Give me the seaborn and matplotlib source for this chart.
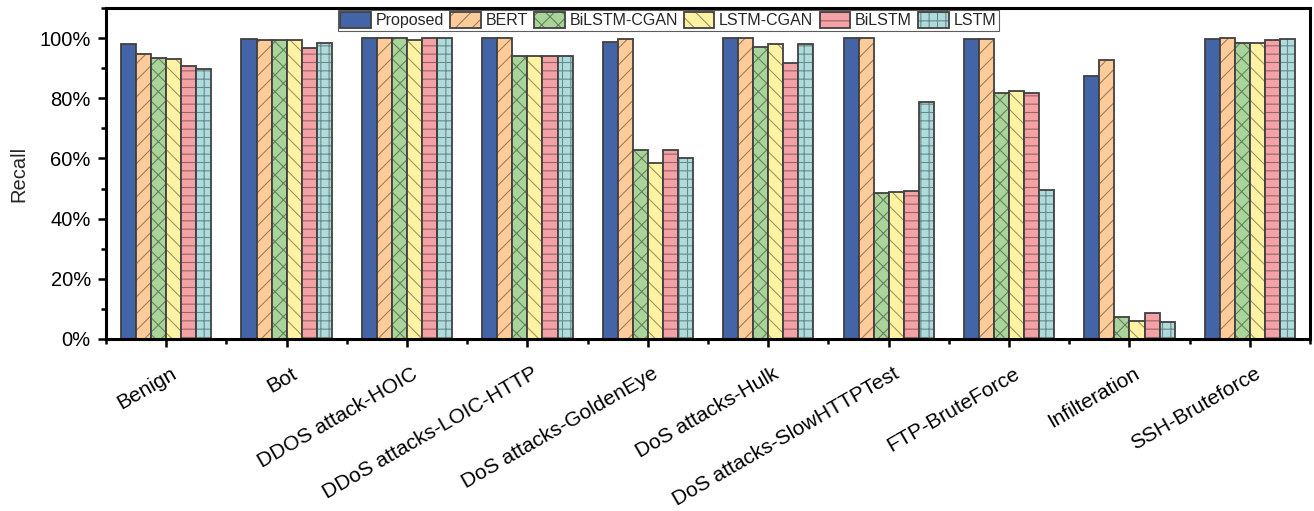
import matplotlib
matplotlib.use("Agg")
import matplotlib.pyplot as plt
import matplotlib.ticker as mticker
import matplotlib.colors as mcolors
import matplotlib.transforms as mtransforms
import numpy as np
import pandas as pd
import seaborn as sns

categories = ["Benign", "Bot", "DDOS attack-HOIC", "DDoS attacks-LOIC-HTTP",
              "DoS attacks-GoldenEye", "DoS attacks-Hulk", "DoS attacks-SlowHTTPTest",
              "FTP-BruteForce", "Infilteration", "SSH-Bruteforce"]
models = ["Proposed", "BERT", "BiLSTM-CGAN", "LSTM-CGAN", "BiLSTM", "LSTM"]

proposed    = [98.0, 99.7, 99.9, 99.9, 98.7, 99.9, 100.0, 99.7, 87.5, 99.8]
bert        = [94.7, 99.4, 100.0, 99.9, 99.8, 99.9, 100.0, 99.6, 92.6, 99.9]
bilstm_cgan = [93.5, 99.3, 99.9, 94.0, 62.8, 97.1, 48.5, 81.6, 7.4, 98.2]
lstm_cgan   = [93.1, 99.2, 99.4, 94.1, 58.6, 97.9, 48.8, 82.5, 6.1, 98.2]
bilstm      = [90.8, 96.8, 100.0, 94.0, 62.8, 91.6, 49.2, 81.8, 8.8, 99.5]
lstm        = [89.8, 98.4, 100.0, 94.1, 60.3, 98.0, 78.7, 49.4, 5.7, 99.8]

series = [proposed, bert, bilstm_cgan, lstm_cgan, bilstm, lstm]
df = pd.DataFrame({
    "category": np.tile(categories, len(models)),
    "model": np.repeat(models, len(categories)),
    "recall": np.concatenate(series),
})

fills = ["#4464A8", "#FFCC99", "#A9D49A", "#FFF3A3", "#F4A2A6", "#AEDCDC"]
hatches = [None, "//", "xx", "\\\\", "--", "++"]

sns.set_theme(style="ticks")
plt.rcParams["font.family"] = ["Liberation Sans", "DejaVu Sans"]
plt.rcParams["hatch.linewidth"] = 0.8

fig = plt.figure(figsize=(13.14, 5.11), dpi=100)
ax = fig.add_axes([0.0807, 0.3366, 0.9163, 0.6478])

sns.barplot(data=df, x="category", y="recall", hue="model", order=categories,
            hue_order=models, palette=fills, saturation=1, width=0.75, gap=0,
            edgecolor="#404040", linewidth=1.3, legend=False, ax=ax)

def darker(c, f=0.62):
    r, g, b = mcolors.to_rgb(c)
    return (r * f, g * f, b * f, 1.0)

# hatch lines in a darker shade of each fill, outlines stay dark grey
for cont, fc, h in zip(ax.containers, fills, hatches):
    for p in cont.patches:
        if h:
            p.set_hatch(h)
            p._hatch_color = darker(fc)

ax.set_xlim(-0.5, len(categories) - 0.5)
ax.set_ylim(0, 110)
ax.yaxis.set_major_locator(mticker.MultipleLocator(20))
ax.yaxis.set_minor_locator(mticker.MultipleLocator(10))
ax.yaxis.set_major_formatter(mticker.FuncFormatter(lambda v, _: f"{v:.0f}%"))
ax.set_xticks(np.arange(len(categories)))
ax.set_xticks(np.arange(len(categories) + 1) - 0.5, minor=True)

ax.tick_params(axis="both", which="major", direction="out", length=6, width=1.8,
               color="black", labelcolor="black")
ax.tick_params(axis="y", which="major", labelsize=14.5, pad=5)
ax.tick_params(axis="x", which="major", labelsize=15, pad=12)
ax.tick_params(axis="both", which="minor", direction="out", length=3.5, width=1.8,
               color="black")

ax.set_xticklabels(categories, rotation=30, ha="right", va="top",
                   rotation_mode="anchor")
shift = mtransforms.ScaledTranslation(0.04, 0, fig.dpi_scale_trans)
for lab in ax.get_xticklabels():
    lab.set_transform(lab.get_transform() + shift)

for s in ax.spines.values():
    s.set_visible(True)
    s.set_linewidth(2.2)
    s.set_color("black")

ax.set_xlabel("")
ax.set_ylabel("Recall", fontsize=14.5, labelpad=8)

leg = ax.legend(handles=list(ax.containers), labels=models, loc="upper center",
                bbox_to_anchor=(0.467, 0.994), ncol=6, frameon=True, fancybox=False,
                edgecolor="#333333", fontsize=11.5, handlelength=1.9, handleheight=1.1,
                handletextpad=0.3, columnspacing=0.4, borderpad=0.15, borderaxespad=0)
leg.get_frame().set_linewidth(0.8)

fig.savefig("out.png", dpi=100)
